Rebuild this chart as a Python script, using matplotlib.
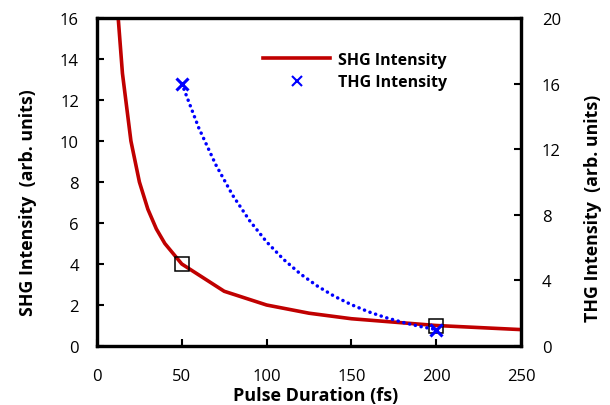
import matplotlib
matplotlib.use("Agg")
import matplotlib.pyplot as plt
from matplotlib.lines import Line2D

plt.rcParams['font.family'] = ['Open Sans', 'DejaVu Sans']

# SHG intensity (left axis)
shg_x = [12.5, 15, 20, 25, 30, 35, 40, 50, 75, 100, 125, 150, 200, 250]
shg_y = [16.0, 13.3, 10.0, 8.0, 6.67, 5.71, 5.0, 4.0, 2.67, 2.0, 1.6, 1.33, 1.0, 0.8]

# THG intensity dotted trend (right axis)
thg_x = [50, 60, 70, 80, 90, 100, 110, 120, 130, 140, 150, 160, 170, 180, 190, 200]
thg_y = [16.0, 13.3, 11.06, 9.19, 7.64, 6.35, 5.28, 4.39, 3.65, 3.03, 2.52, 2.09, 1.74, 1.45, 1.2, 1.0]

# measured points
thg_pts_x = [50, 200]
thg_pts_y = [16, 1]
shg_pts_x = [50, 200]
shg_pts_y = [4, 1]

xticks = [0, 50, 100, 150, 200, 250]
yticks_left = [0, 2, 4, 6, 8, 10, 12, 14, 16]
yticks_right = [0, 4, 8, 12, 16, 20]

fig = plt.figure(figsize=(6.10, 4.06), dpi=100)
ax = fig.add_axes([97/610, 1-347/406, (521-97)/610, (347-19)/406])
ax2 = ax.twinx()

red = '#C00000'
blue = '#0000FF'

ax.plot(shg_x, shg_y, color=red, lw=2.6, solid_joinstyle='round', zorder=3)
ax.plot(shg_pts_x, shg_pts_y, linestyle='none', marker='s', ms=10, mfc='none', mec='black', mew=1.1, zorder=4)

ax2.plot(thg_x, thg_y, color=blue, lw=2.5, linestyle=(0, (0.05, 1.65)), dash_capstyle='round', zorder=3)
ax2.plot(thg_pts_x, thg_pts_y, linestyle='none', marker='x', ms=9, mec=blue, mew=2.2, zorder=5)

ax.set_xlim(0, 250)
ax.set_ylim(0, 16)
ax2.set_ylim(0, 20)
ax.set_xticks(xticks)
ax.set_yticks(yticks_left)
ax2.set_yticks(yticks_right)

for a in (ax, ax2):
    for s in a.spines.values():
        s.set_linewidth(2.3)
    a.tick_params(direction='in', length=5, width=1.5, labelsize=12)
ax.tick_params(axis='y', pad=13)
ax.tick_params(axis='x', pad=16)
ax2.tick_params(axis='y', pad=15)

fig.text(28/610, 1-203/406, 'SHG Intensity  (arb. units)', rotation=90, ha='center', va='center',
         fontsize=12.8, fontweight='bold')
fig.text(593/610, 1-208/406, 'THG Intensity  (arb. units)', rotation=90, ha='center', va='center',
         fontsize=12.8, fontweight='bold')
fig.text(316/610, 1-396/406, 'Pulse Duration (fs)', ha='center', va='center',
         fontsize=13, fontweight='bold')

h1 = Line2D([], [], color=red, lw=2.6)
h2 = Line2D([], [], linestyle='none', marker='x', ms=7, mec=blue, mew=1.5)
leg = ax2.legend([h1, h2], ['SHG Intensity', 'THG Intensity'], loc='center left',
                 bbox_to_anchor=((249-97)/424, 1-(72-19)/328), frameon=False, handlelength=4.2,
                 prop={'weight': 'bold', 'size': 11.5}, labelspacing=0.4, handletextpad=0.5)

fig.savefig('out.png', dpi=100)
